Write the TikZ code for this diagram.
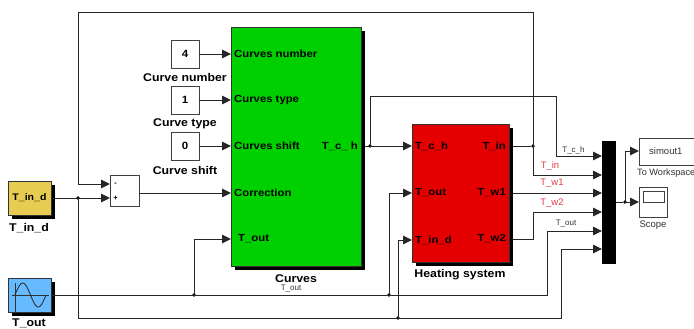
\documentclass[tikz,border=0pt]{standalone}
\usepackage{fontspec}
\setmainfont{Liberation Sans}
\newfontfamily\widefont[FakeStretch=1.1]{Liberation Sans}
\usepackage{xcolor}
\usetikzlibrary{arrows.meta, shadows, positioning}

\definecolor{curvesgreen}{RGB}{0,208,0}
\definecolor{heatred}{RGB}{228,0,0}
\definecolor{tindyellow}{RGB}{230,204,80}
\definecolor{toutblue}{RGB}{102,186,255}
\definecolor{siglabel}{RGB}{230,60,70}

\tikzset{
    wire/.style={draw=black!85, line width=0.95pt},
    sig/.style={wire, -{Triangle[length=9pt,width=8.5pt]}},
    dotnode/.style={circle, fill=black, inner sep=0pt, minimum size=3.6pt},
    blockbox/.style={draw=black!75, line width=0.9pt, fill=white, inner sep=0pt, font=\fontsize{10.5}{12}\selectfont\widefont\bfseries},
    subsys/.style={draw=black!80, line width=0.8pt, inner sep=0pt, general shadow={fill=black, shadow xshift=4pt, shadow yshift=-4pt}},
    portlabel/.style={inner sep=0pt, font=\fontsize{10.3}{11}\selectfont\widefont\bfseries},
    blocklabel/.style={inner sep=0pt, font=\fontsize{11.2}{12}\selectfont\widefont\bfseries},
    smalllabel/.style={inner sep=0pt, text=black!80, font=\fontsize{8}{9}\selectfont},
    greylabel/.style={inner sep=0pt, text=black!80, font=\fontsize{9.5}{11}\selectfont},
    redlabel/.style={inner sep=0pt, text=siglabel, font=\fontsize{9.5}{11}\selectfont},
}

\begin{document}
\begin{tikzpicture}[x=1pt, y=-1pt]
    \useasboundingbox (0,0) rectangle (694,329);
    \clip (0,0) rectangle (694,329);

    % blocks
    \node[subsys, fill=curvesgreen, minimum width=130pt, minimum height=239pt] (curves) at (296,146.5) {};
    \node[subsys, fill=heatred, minimum width=97pt, minimum height=138pt] (heat) at (460.5,193) {};
    \node[subsys, fill=tindyellow, minimum width=43pt, minimum height=34pt] (tind) at (29.5,198) {};
    \node[subsys, fill=toutblue, minimum width=43pt, minimum height=34pt] (tout) at (29.5,295) {};
    \node[blockbox, minimum width=28pt, minimum height=28pt] (cnum) at (185,54) {4};
    \node[blockbox, minimum width=28pt, minimum height=28pt] (ctype) at (185,100) {1};
    \node[blockbox, minimum width=28pt, minimum height=28pt] (cshift) at (185,146) {0};
    \node[blockbox, minimum width=29pt, minimum height=31pt] (sum) at (124.5,190.5) {};
    \node[draw=none, fill=black, minimum width=14pt, minimum height=123pt, inner sep=0pt] (mux) at (609,202.5) {};
    \node[blockbox, minimum width=60pt, minimum height=27pt] (simout) at (669,151.5) {};
    \node[blockbox, minimum width=28pt, minimum height=30pt] (scope) at (653,202) {};
    \node[draw=black!75, line width=0.8pt, minimum width=21pt, minimum height=11pt, inner sep=0pt] (screen) at (653.5,196.5) {};

    % ports
    \coordinate (pcnum) at (231,54);
    \coordinate (pctype) at (231,100);
    \coordinate (pcshift) at (231,146);
    \coordinate (pcorr) at (231,193);
    \coordinate (pcout) at (231,239);
    \coordinate (pcch) at (365,146);
    \coordinate (phch) at (412,146);
    \coordinate (phout) at (412,193);
    \coordinate (phind) at (412,240);
    \coordinate (phin) at (513,146);
    \coordinate (phw1) at (513,193);
    \coordinate (phw2) at (513,239);
    \coordinate (sminus) at (110,184);
    \coordinate (splus) at (110,198);
    \coordinate (sout) at (139,193);
    \coordinate (mch) at (602,156);
    \coordinate (min) at (602,175);
    \coordinate (mw1) at (602,193);
    \coordinate (mw2) at (602,212);
    \coordinate (mout) at (602,231);
    \coordinate (mind) at (602,249);
    \coordinate (mo) at (616,202);
    \coordinate (psim) at (639,151);
    \coordinate (pscope) at (639,202);

    % junctions
    \node[dotnode] (j1) at (78,198) {};
    \node[dotnode] (j2) at (194,295) {};
    \node[dotnode] (j3) at (389,295) {};
    \node[dotnode] (j4) at (398,318) {};
    \node[dotnode] (j5) at (370,146) {};
    \node[dotnode] (j6) at (533,146) {};
    \node[dotnode] (j7) at (625,202) {};

    % connectors
    \draw[sig] (cnum) -- (pcnum);
    \draw[sig] (ctype) -- (pctype);
    \draw[sig] (cshift) -- (pcshift);
    \draw[sig] (sout) -- (pcorr);
    \draw[sig] (tind.east) -- (splus);
    \draw[sig] (j6.center) -- (533,12) -- (78,12) |- (sminus);
    \draw[sig] (tout.east) -- (547,295) |- (mout);
    \draw[sig] (j2.center) |- (pcout);
    \draw[sig] (j3.center) |- (phout);
    \draw[sig] (j1.center) |- (561,318) |- (mind);
    \draw[sig] (j4.center) |- (phind);
    \draw[sig] (pcch) -- (phch);
    \draw[sig] (j5.center) |- (556,96) |- (mch);
    \draw[wire] (phin) -- (j6);
    \draw[sig] (j6.center) |- (min);
    \draw[sig] (phw1) -- (mw1);
    \draw[sig] (phw2) -- (533,239) |- (mw2);
    \draw[wire] (mo) -- (j7);
    \draw[sig] (j7.center) |- (psim);
    \draw[sig] (j7.center) -- (pscope);

    % sine icon
    \draw[black!80, line width=0.6pt] (12,295) -- (49,295) (15,283) -- (15,312);
    \draw[black!85, line width=0.8pt] plot[smooth, domain=0:360, samples=37] ({15+\x*31/360},{295-12*sin(\x)});

    % texts in blocks
    \node[portlabel, anchor=west] (tcnum) at (234,54) {Curves number};
    \node[portlabel, anchor=west] (tctype) at (234,100) {Curves type};
    \node[portlabel, anchor=west] (tcshift) at (234,146) {Curves shift};
    \node[portlabel, anchor=west] (tcorr) at (234,193) {Correction};
    \node[portlabel, anchor=west] (tcout) at (238,239) {T\_out};
    \node[portlabel, anchor=east] (tcch) at (358,146) {T\_c\_ h};
    \node[portlabel, anchor=west] (thch) at (415,146) {T\_c\_h};
    \node[portlabel, anchor=west] (thout) at (415,193) {T\_out};
    \node[portlabel, anchor=west] (thind) at (415,240) {T\_in\_d};
    \node[portlabel, anchor=east] (thin) at (506,146) {T\_in};
    \node[portlabel, anchor=east] (thw1) at (506,193) {T\_w1};
    \node[portlabel, anchor=east] (thw2) at (506,239) {T\_w2};
    \node[portlabel, font=\fontsize{9.6}{11}\selectfont\widefont\bfseries] (ttind) at (29.5,198) {T\_in\_d};
    \node[inner sep=0pt, font=\fontsize{7.5}{9}\selectfont\bfseries] (tminus) at (115.5,184) {-};
    \node[inner sep=0pt, font=\fontsize{7.5}{9}\selectfont\bfseries] (tplus) at (115.5,198) {+};
    \node[greylabel, anchor=west] (tsim) at (649,151) {simout1};

    % block labels
    \node[blocklabel] (lnum) at (185,77) {Curve number};
    \node[blocklabel] (ltype) at (185,124) {Curve type};
    \node[blocklabel] (lshift) at (185,170) {Curve shift};
    \node[blocklabel] (lcurves) at (296,279) {Curves};
    \node[blocklabel] (lheat) at (460,275) {Heating system};
    \node[blocklabel] (lind) at (29,228) {T\_in\_d};
    \node[blocklabel] (lout) at (29,323) {T\_out};
    \node[greylabel, font=\fontsize{9.2}{11}\selectfont, anchor=west] (lwork) at (637,173) {To Workspace};
    \node[greylabel] (lscope) at (653,225) {Scope};

    % signal labels
    \node[smalllabel] (sch) at (573.5,150) {T\_c\_h};
    \node[redlabel] (sin) at (550,166.5) {T\_in};
    \node[redlabel] (sw1) at (552,183) {T\_w1};
    \node[redlabel] (sw2) at (552,203) {T\_w2};
    \node[smalllabel] (sout2) at (566,224) {T\_out};
    \node[smalllabel] (sout1) at (291,289) {T\_out};
\end{tikzpicture}
\end{document}
